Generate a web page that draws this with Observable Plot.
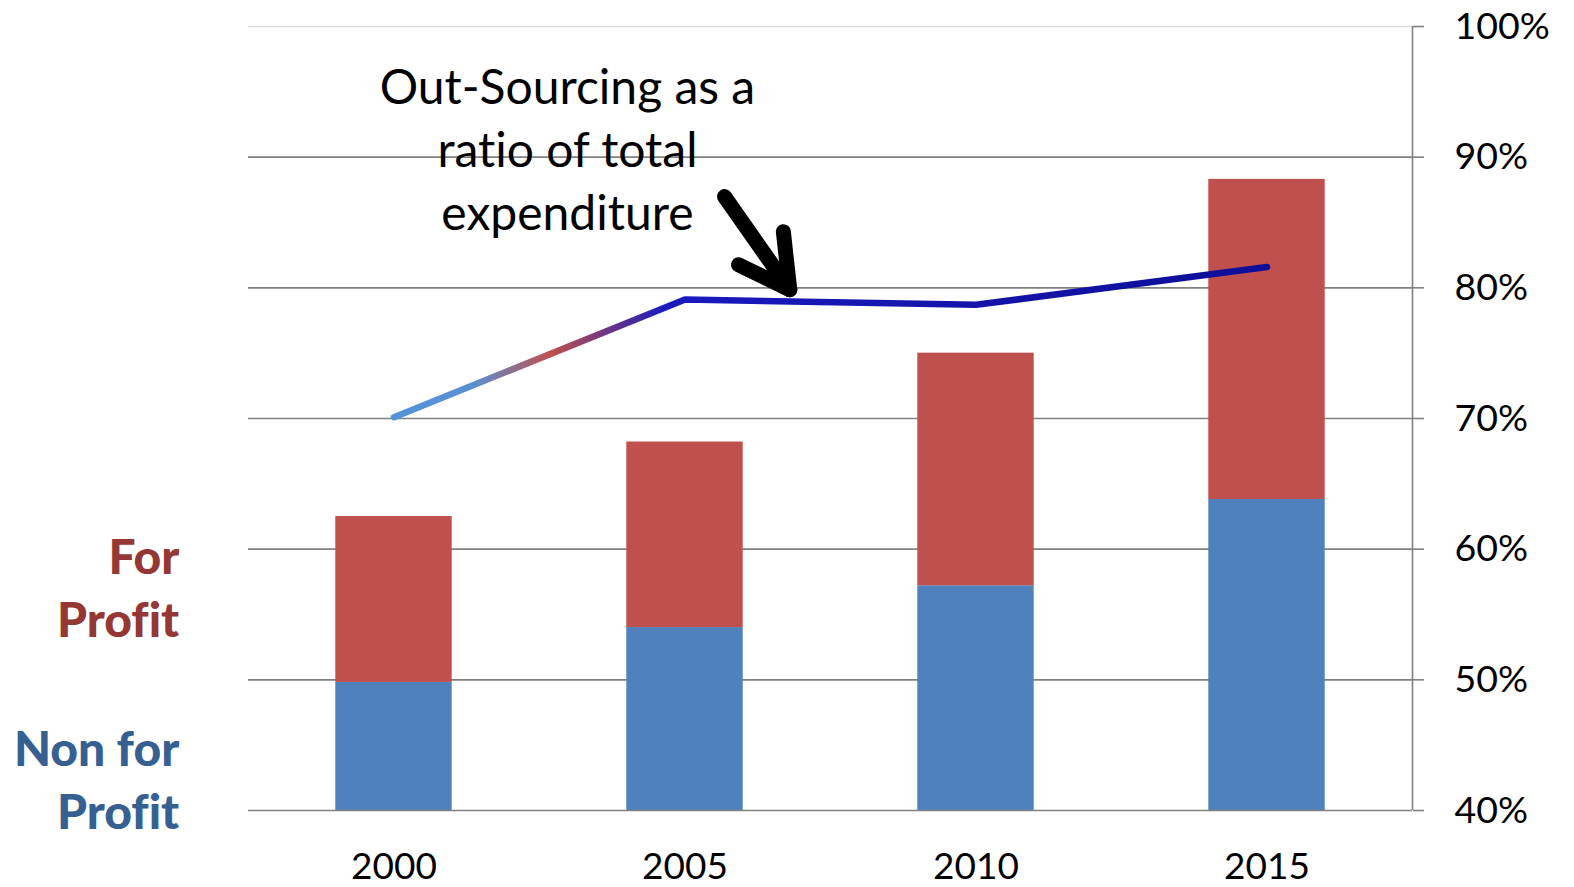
<!DOCTYPE html>
<html>
<head>
<meta charset="utf-8">
<script src="https://cdn.jsdelivr.net/npm/d3@7"></script>
<script src="https://cdn.jsdelivr.net/npm/@observablehq/plot@0.6"></script>
<style>
  html, body { margin: 0; padding: 0; background: #fff; }
  #chart svg { display: block; }
  #chart svg text { font-variant-ligatures: none; font-feature-settings: "liga" 0; }
</style>
</head>
<body>
<div id="chart"></div>
<script>
// ---- Data ----
const years = [2000, 2005, 2010, 2015];
const nonForProfitTop = [49.8, 54.0, 57.2, 63.8];   // % (top of blue segment)
const forProfitTop = [62.5, 68.2, 75.0, 88.3];      // % (top of red segment)
const outsourcingRatio = [70.1, 79.1, 78.7, 81.6];  // % line
const yTicks = [40, 50, 60, 70, 80, 90, 100];
const gridTicks = [50, 60, 70, 80, 90];
const annotationText = "Out-Sourcing as a\nratio of total\nexpenditure";
const legendLabels = ["For\nProfit", "Non for\nProfit"];
const legendY = [57.25, 42.56];
// arrow (in data units: year, %)
const arrowX1 = [2005.68, 2005.92, 2006.69];
const arrowY1 = [86.98, 81.77, 84.30];
const arrowX2 = [2006.80, 2006.80, 2006.80];
const arrowY2 = [79.86, 79.86, 79.86];

const BASE = 40;
const bars = years.map((y, i) => ({year: y, np: nonForProfitTop[i], fp: forProfitTop[i]}));
const line = years.map((y, i) => ({year: y, v: outsourcingRatio[i]}));
const arrows = arrowX1.map((x, i) => ({x1: x, y1: arrowY1[i], x2: arrowX2[i], y2: arrowY2[i]}));

const FONT = "Lato, 'Open Sans', sans-serif";

const chart = Plot.plot({
  width: 1574,
  height: 887,
  marginLeft: 248,
  marginRight: 162,
  marginTop: 26,
  marginBottom: 77,
  style: {fontFamily: FONT, color: "black", background: "white"},
  x: {type: "linear", domain: [1997.5, 2017.5]},
  y: {domain: [40, 100]},
  marks: [
    Plot.ruleY([100], {x1: 1997.5, x2: 2017.5, stroke: "#d9d9d9", strokeWidth: 1.5}),
    Plot.gridY(gridTicks, {stroke: "#808080", strokeOpacity: 1, strokeWidth: 1.6}),
    Plot.rectY(bars, {x1: d => d.year - 1, x2: d => d.year + 1, y1: BASE, y2: "np", fill: "#4f81bd"}),
    Plot.rectY(bars, {x1: d => d.year - 1, x2: d => d.year + 1, y1: "np", y2: "fp", fill: "#c0504d"}),
    Plot.ruleY([40], {stroke: "#808080", strokeWidth: 1.6}),
    Plot.ruleX([2017.5], {stroke: "#808080", strokeWidth: 1.6}),
    Plot.axisY({
      anchor: "right", ticks: yTicks, tickSize: 11, tickPadding: 31,
      tickFormat: d => d + "%", label: null, fontSize: 37.5,
      stroke: "#808080", strokeWidth: 1.6, fill: "black"
    }),
    Plot.axisX({
      ticks: years, tickSize: 0, tickPadding: 42, tickFormat: d => String(d),
      label: null, fontSize: 37, fill: "black"
    }),
    Plot.line(line, {x: "year", y: "v", stroke: "url(#outsourceGrad)", strokeWidth: 6.5, strokeLinejoin: "round", strokeLinecap: "round"}),
    Plot.link(arrows, {x1: "x1", y1: "y1", x2: "x2", y2: "y2", stroke: "black", strokeWidth: 15, strokeLinecap: "round"}),
    Plot.text([annotationText], {
      x: 2002.98, y: 90.8, text: d => d, fontSize: 48, lineHeight: 1.32,
      textAnchor: "middle", lineAnchor: "middle", fill: "black"
    }),
    Plot.text(legendLabels, {
      x: 1996.31, y: (d, i) => legendY[i], text: d => d, fontSize: 48, fontWeight: 900,
      lineHeight: 1.31, textAnchor: "end", lineAnchor: "middle",
      fill: (d, i) => ["#953735", "#376092"][i]
    })
  ]
});

// gradient for the out-sourcing line
const svg = d3.select(chart);
const defs = svg.insert("defs", ":first-child");
const grad = defs.append("linearGradient").attr("id", "outsourceGrad")
  .attr("x1", "0").attr("y1", "0").attr("x2", "1").attr("y2", "0");
[["0", "#5592da"], ["0.09", "#5a8fd4"], ["0.18", "#c0504d"], ["0.31", "#1a1abf"], ["1", "#0e0e98"]]
  .forEach(([o, c]) => grad.append("stop").attr("offset", o).attr("stop-color", c));

document.getElementById("chart").appendChild(chart);
</script>
</body>
</html>
